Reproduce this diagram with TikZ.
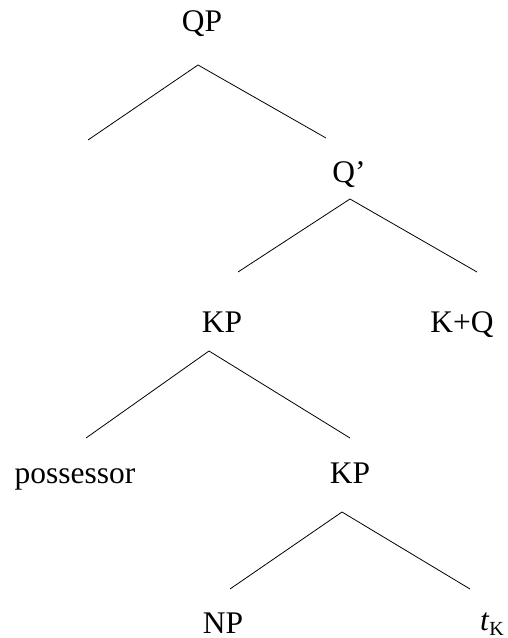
\documentclass[tikz,border=0pt]{standalone}
\usepackage{fontspec}
\setmainfont{Liberation Serif}
\usepackage{tikz}
\usetikzlibrary{positioning}

\begin{document}
\begin{tikzpicture}[x=0.75pt,y=-0.75pt,
        lbl/.style={anchor=base, inner sep=0pt, font=\fontsize{23.6}{28}\selectfont},
        branch/.style={line width=0.6pt}]
           \useasboundingbox (0,0) rectangle (507,638);
           % labels
           \node[lbl] (qp) at (202,32) {QP};
           \node[lbl] (qbar) at (349,182) {Q'};
           \node[lbl] (kp) at (222,332) {KP};
           \node[lbl] (kq) at (462,332) {K+Q};
           \node[lbl] (poss) at (75,483) {possessor};
           \node[lbl] (kp2) at (350,483) {KP};
           \node[lbl] (np) at (223,633) {NP};
           \node[lbl] (tk) at (492,630) {\textit{t}\raisebox{-0.16em}{\fontsize{15}{15}\selectfont K}};
           % branch points
           \coordinate (qp-top) at (198,65);
           \coordinate (qp-l) at (88,140);
           \coordinate (qp-r) at (326,138);
           \coordinate (qbar-top) at (350,199);
           \coordinate (qbar-l) at (238,272);
           \coordinate (qbar-r) at (477,272);
           \coordinate (kp-top) at (209,351);
           \coordinate (kp-l) at (86,438);
           \coordinate (kp-r) at (350,438);
           \coordinate (kp2-top) at (342,512);
           \coordinate (kp2-l) at (230,589);
           \coordinate (kp2-r) at (470,589);
           \draw[branch] (qp-l) -- (qp-top) -- (qp-r);
           \draw[branch] (qbar-l) -- (qbar-top) -- (qbar-r);
           \draw[branch] (kp-l) -- (kp-top) -- (kp-r);
           \draw[branch] (kp2-l) -- (kp2-top) -- (kp2-r);
        \end{tikzpicture}
\end{document}
